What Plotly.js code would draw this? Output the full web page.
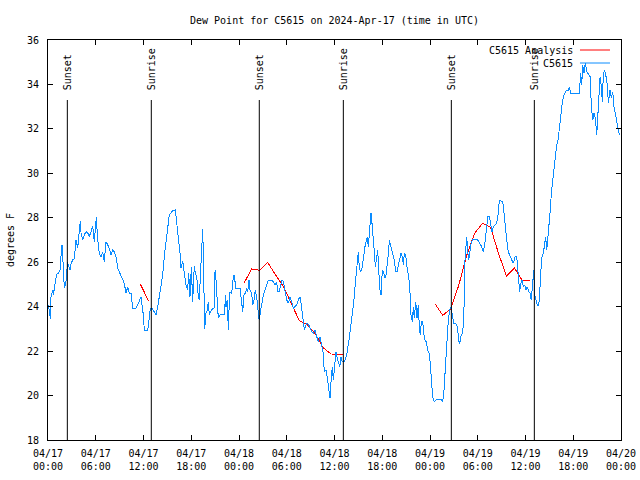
<!DOCTYPE html>
<html><head><meta charset="utf-8">
<script src="https://cdn.plot.ly/plotly-3.0.1.min.js"></script>
<style>html,body{margin:0;padding:0;background:#fff}#chart{width:640px;height:480px}
#chart .scatterlayer path.js-line{shape-rendering:crispEdges}</style>
</head><body><div id="chart"></div>
<script>
// Observations: hours since 2024-04-17 00:00 UTC, dew point (F)
const obsHours = [0,0.16,0.29,0.38,0.59,0.67,0.79,0.92,1.09,1.34,
1.51,1.63,1.76,1.85,2.05,2.17,2.35,2.43,2.60,2.76,
2.89,3.10,3.30,3.52,3.73,3.93,4.06,4.15,4.36,4.56,
4.78,4.99,5.19,5.40,5.62,5.82,5.94,6.07,6.25,6.45,
6.66,6.87,7.07,7.29,7.50,7.70,7.92,8.13,8.33,8.55,
8.76,8.96,9.17,9.39,9.59,9.80,10.02,10.22,10.43,10.64,
11.06,11.27,11.47,11.69,11.81,11.98,12.10,12.53,12.73,12.86,
13.07,13.36,13.57,13.79,13.99,14.20,14.41,14.61,14.83,15.04,
15.24,15.46,15.67,16.00,16.21,16.37,16.59,16.71,16.93,17.13,
17.34,17.55,17.68,17.84,18.01,18.18,18.38,18.51,18.69,18.89,
19.01,19.19,19.31,19.44,19.52,19.60,19.69,19.85,20.02,20.14,
20.27,20.45,20.70,20.86,20.99,21.11,21.27,21.40,21.61,22.20,
22.28,22.37,22.53,22.66,22.78,22.87,23.08,23.29,23.41,23.59,
24.13,24.34,24.47,24.63,24.79,24.97,25.10,25.26,25.38,25.60,
25.72,25.89,26.05,26.23,26.35,26.43,26.55,26.73,26.89,27.06,
27.27,27.48,27.68,28.11,28.31,28.53,28.74,28.86,29.07,29.24,
29.41,29.57,29.78,30.00,30.20,30.41,30.62,30.83,31.04,31.25,
31.45,31.67,31.79,32.01,32.21,32.42,32.58,32.76,32.92,33.14,
33.34,33.55,33.77,33.97,34.18,34.39,34.59,34.72,34.93,35.10,
35.27,35.44,35.56,35.73,35.85,36.03,36.19,36.35,36.53,36.66,
36.82,36.98,37.20,37.41,37.57,37.74,37.91,38.08,38.24,38.41,
38.58,38.70,38.87,38.99,39.12,39.29,39.42,39.55,39.67,39.83,
40.00,40.12,40.25,40.43,40.59,40.75,40.88,41.00,41.13,41.31,
41.43,41.56,41.68,41.85,42.01,42.19,42.35,42.48,42.64,42.76,
42.89,43.01,43.19,43.35,43.52,43.69,43.86,44.02,44.20,44.36,
44.52,44.65,44.77,44.95,45.08,45.20,45.36,45.49,45.61,45.78,
45.91,46.03,46.21,46.37,46.53,46.66,46.78,46.91,47.09,47.21,
47.37,47.54,47.71,47.88,48.04,48.22,48.38,48.54,48.76,49.39,
49.60,49.76,49.89,50.01,50.14,50.30,50.48,50.64,50.81,50.98,
51.15,51.36,51.49,51.61,51.74,51.86,52.06,52.24,52.36,52.49,
52.61,52.74,52.87,52.99,53.16,53.32,53.66,54.00,54.25,54.50,
54.70,54.92,55.13,55.26,55.46,55.63,55.79,55.96,56.17,56.38,
56.59,56.71,56.89,57.14,57.30,57.47,57.64,57.84,58.06,58.27,
58.47,58.68,58.90,59.02,59.15,59.27,59.40,59.56,59.73,59.90,
60.07,60.23,60.41,60.57,60.73,60.91,61.04,61.11,61.24,61.41,
61.61,61.74,61.91,62.08,62.24,62.42,62.54,62.67,62.79,62.92,
63.08,63.25,63.42,63.58,63.75,63.92,64.09,64.25,64.43,64.59,
64.75,64.97,65.18,65.38,65.51,65.68,65.93,66.76,66.94,67.06,
67.19,67.35,67.52,67.70,67.90,68.11,68.28,68.45,68.61,68.78,
68.95,69.11,69.24,69.37,69.53,69.66,69.78,69.96,70.12,70.28,
70.41,70.62,70.79,70.96,71.12,71.29,71.46,71.63,71.79,71.88];
const obsDew = [24.08,23.85,23.45,24.45,24.75,24.53,24.80,25.20,25.47,25.52,
25.65,26.25,26.78,26.25,24.84,24.98,25.35,26.02,25.80,25.65,
25.92,26.10,26.15,27.00,26.64,27.45,27.87,27.32,27.00,27.23,
27.37,27.32,27.15,27.37,27.63,26.92,27.75,28.02,27.00,26.40,
26.25,26.47,26.02,26.92,26.78,26.63,26.33,26.55,26.47,26.25,
25.73,25.57,25.43,25.20,25.05,24.60,24.90,24.60,24.60,23.93,
23.93,24.08,24.30,24.45,24.08,23.63,22.95,22.95,23.48,23.93,
23.93,23.77,23.63,24.00,24.45,24.83,25.43,26.25,26.92,27.60,
28.13,28.23,28.32,28.35,27.75,27.08,26.40,25.73,26.07,25.50,
24.98,24.75,25.50,24.45,25.80,24.22,25.83,25.50,25.35,24.45,
24.30,25.73,26.85,27.48,26.25,24.15,22.98,23.70,23.85,24.22,
23.63,23.77,23.93,23.93,25.65,25.20,24.00,23.48,23.63,23.63,
24.53,24.00,24.30,22.95,24.22,24.67,24.60,25.35,25.43,24.83,
24.83,24.08,23.77,24.53,24.60,24.83,24.67,25.20,24.75,24.60,
24.08,24.30,24.75,24.38,24.08,23.63,23.40,23.85,24.22,24.53,
24.75,24.98,25.20,25.20,25.12,24.98,25.12,24.67,24.67,24.98,
25.20,25.12,24.75,24.30,24.15,24.45,24.22,23.93,24.00,24.08,
24.30,24.45,24.15,23.63,22.95,23.18,23.25,23.18,23.03,22.87,
22.80,22.95,22.65,22.42,22.65,22.20,21.90,21.07,21.15,20.78,
20.25,19.88,20.62,21.30,20.70,21.45,21.97,21.68,21.45,21.30,
21.75,21.52,21.52,21.68,21.90,22.28,22.73,23.25,23.70,24.15,
24.90,25.43,26.02,26.47,25.73,25.57,25.65,25.88,26.25,26.70,
27.00,27.15,26.70,27.60,28.23,27.60,27.15,26.47,25.80,26.18,
26.55,25.65,24.83,24.53,25.65,25.50,25.28,25.43,25.88,26.33,
27.00,26.85,26.55,26.33,26.10,25.57,25.57,25.88,26.25,26.40,
26.25,25.88,26.40,26.33,25.88,25.65,25.20,24.60,23.63,23.32,
24.00,23.48,24.22,23.48,24.08,23.10,22.73,23.32,23.32,22.80,
22.50,22.42,22.05,21.90,21.45,20.48,19.88,19.72,19.80,19.83,
19.72,20.25,21.00,21.90,22.73,23.40,23.85,24.00,23.63,23.25,
23.25,23.18,22.95,22.42,22.35,22.65,22.80,23.25,25.88,26.63,
27.15,26.47,26.10,26.40,26.85,27.00,27.03,27.00,26.85,26.70,
26.47,26.92,27.60,28.05,28.05,27.68,27.37,27.60,27.68,27.75,
28.20,28.80,28.77,28.72,28.20,27.45,27.00,26.47,26.25,26.10,
25.95,26.25,26.25,25.65,25.20,24.67,25.05,25.20,24.90,24.98,
24.75,24.90,24.67,24.60,24.30,25.05,25.65,24.60,24.38,24.15,
24.03,24.30,25.50,26.25,26.40,26.78,27.15,26.55,27.00,27.37,
28.20,29.10,29.70,30.38,30.90,31.28,31.50,32.10,32.63,33.08,
33.45,33.60,33.75,33.75,33.87,33.60,33.57,33.60,34.50,33.98,
34.88,34.50,34.98,34.57,34.43,34.35,33.00,32.40,32.70,32.48,
31.73,32.85,33.45,34.35,33.90,33.22,34.50,34.62,34.35,33.98,
33.15,33.75,33.38,33.67,33.00,32.70,32.40,32.10,31.73,31.80];

// Analysis: hours since start (null = gap), dew point (F)
const anaHours = [11.6,12.65,null,
24.6,25.6,26.6,27.6,28.6,29.6,30.6,31.6,32.6,33.6,34.6,35.6,36.6,37.1,null,
48.6,49.6,50.6,51.6,52.6,53.6,54.6,55.6,56.6,57.6,58.6,59.6,60.6];
const anaDew = [25.02,24.25,null,
25.04,25.70,25.64,25.99,25.43,24.90,24.12,23.36,23.18,22.77,22.14,21.87,21.86,21.86,null,
24.15,23.61,23.90,24.95,26.30,27.30,27.75,27.58,26.41,25.38,25.74,25.18,25.17];

const sunHours = [2.43,12.98,26.55,37.11,50.68,61.11];
const sunLabels = ['Sunset','Sunrise','Sunset','Sunrise','Sunset','Sunrise'];
const seriesNames = ['C5615 Analysis','C5615'];
const seriesColors = ['#ff0000','#0a8cff'];

const base = Date.UTC(2024,3,17);
const toT = h => (h === null ? null : base + h*3600000);
const mono = 'DejaVu Sans Mono, Liberation Mono, monospace';

const traces = [
  {x: anaHours.map(toT), y: anaDew, type:'scatter', mode:'lines', name: seriesNames[0],
   line:{color: seriesColors[0], width:1}, connectgaps:false, showlegend:false, hoverinfo:'skip'},
  {x: obsHours.map(toT), y: obsDew, type:'scatter', mode:'lines', name: seriesNames[1],
   line:{color: seriesColors[1], width:1}, showlegend:false, hoverinfo:'skip'}
];

const shapes = [];
const annotations = [];
sunHours.forEach((h,i)=>{
  shapes.push({type:'line', xref:'x', yref:'y domain', x0:toT(h), x1:toT(h), y0:0, y1:0.85,
    line:{color:'#000', width:1}});
  annotations.push({xref:'x', yref:'y domain', x:toT(h), y:0.87, text:sunLabels[i],
    textangle:-90, showarrow:false, xanchor:'center', yanchor:'bottom',
    font:{family:mono, size:10, color:'#000'}});
});
// key (text then sample, as in the original)
const keyY = [0.975, 0.9425];
seriesNames.forEach((n,i)=>{
  annotations.push({xref:'paper', yref:'paper', x:0.9197, y:keyY[i], text:n, showarrow:false,
    xanchor:'right', yanchor:'middle', font:{family:mono, size:10, color:'#000'}});
  shapes.push({type:'line', xref:'paper', yref:'paper', x0:0.9284, x1:0.9808, y0:keyY[i], y1:keyY[i],
    line:{color:seriesColors[i], width:1}});
});

const axisCommon = {showline:true, linecolor:'#000', linewidth:1, mirror:'ticks', ticks:'inside',
  ticklen:5, tickcolor:'#000', tickwidth:1, showgrid:false, zeroline:false,
  tickfont:{family:mono, size:10, color:'#000'}};

const layout = {
  width:640, height:480, autosize:false,
  margin:{l:48, r:19, t:40, b:40, pad:0},
  paper_bgcolor:'#fff', plot_bgcolor:'#fff',
  title:{text:'Dew Point for C5615 on 2024-Apr-17 (time in UTC)', font:{family:mono, size:10, color:'#000'},
    xref:'paper', x:0.5, xanchor:'center', yref:'container', y:0.958, yanchor:'middle'},
  xaxis: Object.assign({}, axisCommon, {type:'date', range:[base, base+72*3600000],
    tickmode:'linear', tick0:base, dtick:6*3600000, tickformat:'%m/%d<br>%H:%M', automargin:false,
    ticklabelstandoff:4}),
  yaxis: Object.assign({}, axisCommon, {range:[18,36], tickmode:'linear', tick0:18, dtick:2,
    automargin:false, ticklabelstandoff:6,
    title:{text:'degrees F', font:{family:mono, size:10, color:'#000'}, standoff:10}}),
  shapes: shapes,
  annotations: annotations,
  showlegend:false
};

Plotly.newPlot('chart', traces, layout, {staticPlot:true, displayModeBar:false});
</script>
</body></html>
